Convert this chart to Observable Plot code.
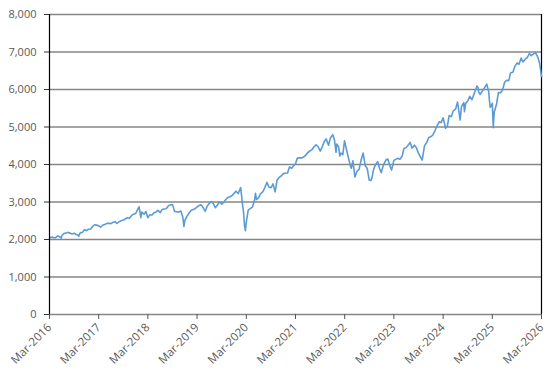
<!DOCTYPE html>
<html>
<head>
<meta charset="utf-8">
<script src="https://cdn.jsdelivr.net/npm/d3@7"></script>
<script src="https://cdn.jsdelivr.net/npm/@observablehq/plot@0.6"></script>
<style>
  html, body { margin: 0; padding: 0; background: #fff; }
  #chart svg { display: block; }
</style>
</head>
<body>
<div id="chart"></div>
<script>
const dates = [
  "2016-03-01","2016-03-15","2016-04-01","2016-04-15","2016-05-01","2016-05-15","2016-05-27","2016-06-01","2016-06-15","2016-07-01","2016-07-15","2016-08-01","2016-08-15","2016-09-01","2016-09-15","2016-10-01","2016-10-04","2016-10-15","2016-11-01","2016-11-15","2016-12-01","2016-12-15",
  "2017-01-01","2017-01-15","2017-02-01","2017-02-15","2017-03-01","2017-03-15","2017-04-01","2017-04-15","2017-05-01","2017-05-15","2017-06-01","2017-06-15","2017-07-01","2017-07-15","2017-08-01","2017-08-15","2017-09-01","2017-09-15","2017-10-01","2017-10-15","2017-11-01","2017-11-15","2017-12-01","2017-12-15","2017-12-26",
  "2018-01-08","2018-01-15","2018-02-01","2018-02-15","2018-03-01","2018-03-15","2018-04-01","2018-04-15","2018-05-01","2018-05-15","2018-06-01","2018-06-15","2018-07-01","2018-07-15","2018-08-01","2018-08-20","2018-09-01","2018-09-15","2018-10-01","2018-10-15","2018-11-01","2018-11-15","2018-11-24","2018-12-01","2018-12-15",
  "2019-01-01","2019-01-15","2019-02-01","2019-02-15","2019-03-01","2019-03-15","2019-04-01","2019-04-15","2019-05-01","2019-05-15","2019-06-01","2019-06-15","2019-07-01","2019-07-15","2019-08-01","2019-08-15","2019-09-01","2019-09-15","2019-10-01","2019-10-15","2019-11-01","2019-11-15","2019-12-01","2019-12-15",
  "2020-01-01","2020-01-19","2020-02-01","2020-02-09","2020-02-16","2020-02-23","2020-03-01","2020-03-15","2020-04-01","2020-04-15","2020-05-01","2020-05-08","2020-05-15","2020-06-01","2020-06-15","2020-07-01","2020-07-15","2020-08-01","2020-08-15","2020-09-01","2020-09-15","2020-10-01","2020-10-15","2020-11-01","2020-11-15","2020-12-01","2020-12-15",
  "2021-01-01","2021-01-15","2021-02-01","2021-02-15","2021-03-01","2021-03-15","2021-04-01","2021-04-15","2021-05-01","2021-05-15","2021-06-01","2021-06-15","2021-07-01","2021-07-15","2021-08-01","2021-08-15","2021-09-01","2021-09-15","2021-10-01","2021-10-15","2021-11-01","2021-11-15","2021-12-03","2021-12-15","2021-12-27",
  "2022-01-01","2022-01-15","2022-01-24","2022-02-01","2022-02-15","2022-02-28","2022-03-15","2022-04-01","2022-04-15","2022-04-20","2022-05-01","2022-05-16","2022-06-01","2022-06-15","2022-07-01","2022-07-16","2022-08-01","2022-08-15","2022-08-30","2022-09-12","2022-09-20","2022-10-01","2022-10-15","2022-11-01","2022-11-15","2022-11-28","2022-12-01","2022-12-15",
  "2023-01-01","2023-01-15","2023-02-01","2023-02-12","2023-03-01","2023-03-15","2023-04-01","2023-04-15","2023-05-01","2023-05-15","2023-06-01","2023-06-30","2023-07-15","2023-08-01","2023-08-15","2023-09-01","2023-09-27","2023-10-15","2023-11-01","2023-11-15","2023-12-01","2023-12-15",
  "2024-01-01","2024-01-15","2024-02-01","2024-02-15","2024-03-01","2024-03-19","2024-04-01","2024-04-15","2024-05-01","2024-05-15","2024-06-01","2024-06-16","2024-07-05","2024-07-15","2024-08-01","2024-08-06","2024-08-15","2024-09-01","2024-09-15","2024-10-01","2024-10-15","2024-11-01","2024-11-06","2024-11-15","2024-11-20","2024-12-01","2024-12-15",
  "2025-01-01","2025-01-19","2025-02-01","2025-02-13","2025-03-01","2025-03-08","2025-03-15","2025-04-01","2025-04-15","2025-05-01","2025-05-15","2025-06-01","2025-06-15","2025-07-01","2025-07-15","2025-08-01","2025-08-15","2025-09-01","2025-09-15","2025-10-01","2025-10-15","2025-11-01","2025-11-15","2025-12-01","2025-12-15",
  "2026-01-01","2026-01-15","2026-02-01","2026-02-15","2026-03-01"
];
const values = [
  2040,2065,2050,2047,2095,2075,2035,2102,2161,2170,2190,2170,2147,2168,2133,2111,2085,2180,2191,2262,2238,2274,
  2279,2349,2395,2385,2362,2328,2388,2402,2430,2432,2423,2459,2476,2430,2476,2500,2519,2553,2579,2564,2642,2675,2695,2800,2872,
  2581,2731,2677,2747,2582,2656,2654,2711,2735,2779,2718,2801,2813,2818,2901,2930,2924,2750,2740,2730,2760,2600,2351,2510,2610,
  2706,2775,2803,2822,2867,2905,2923,2850,2752,2886,2964,3014,2953,2847,2926,3007,2940,2995,3066,3120,3140,3168,3230,3289,
  3225,3386,2954,2746,2386,2237,2470,2783,2830,2863,3055,3232,3066,3115,3226,3271,3372,3526,3401,3380,3483,3270,3585,3662,3694,3756,3768,
  3773,3934,3901,3968,4019,4170,4181,4173,4202,4246,4320,4360,4395,4468,4524,4480,4357,4471,4613,4682,4513,4709,4796,4662,4326,
  4546,4471,4225,4306,4262,4631,4392,4131,3930,3901,4101,3666,3825,3863,4118,4305,3966,3901,3585,3577,3650,3856,3991,4076,3895,3783,3840,3999,
  4119,4147,3951,3855,4109,4137,4167,4136,4221,4425,4450,4589,4437,4515,4450,4288,4117,4502,4594,4719,4742,4783,
  4906,5029,5137,5117,5243,4967,5018,5308,5277,5431,5475,5667,5186,5543,5648,5408,5626,5708,5815,5728,5870,6032,6090,6050,5930,5868,5949,
  6040,6144,5955,5521,5633,4982,5396,5604,5916,5912,5977,6198,6244,6238,6449,6460,6615,6711,6671,6840,6734,6812,6850,6960,6900,
  6950,6980,6870,6700,6350
];
const yTicks = [0,1000,2000,3000,4000,5000,6000,7000,8000];
const xTickYears = [2016,2017,2018,2019,2020,2021,2022,2023,2024,2025,2026];

const data = dates.map((d, i) => ({date: new Date(d + "T00:00:00Z"), value: values[i]}));
const xTicks = xTickYears.map(y => new Date(Date.UTC(y, 2, 1)));
const xDomain = [xTicks[0], xTicks[xTicks.length - 1]];

const chart = Plot.plot({
  width: 558,
  height: 375,
  marginLeft: 49,
  marginRight: 17,
  marginTop: 14,
  marginBottom: 61,
  style: {fontFamily: "'Open Sans', sans-serif", fontSize: "11px", color: "#595959", background: "#fff"},
  x: {type: "utc", domain: xDomain},
  y: {domain: [0, 8000]},
  marks: [
    Plot.ruleY(yTicks, {stroke: "#868686", strokeWidth: 1.6}),
    Plot.ruleX([xDomain[1]], {stroke: "#000", strokeWidth: 1.2}),
    Plot.line(data, {x: "date", y: "value", stroke: "#5b9bd5", strokeWidth: 1.6}),
    Plot.ruleX([xDomain[0]], {stroke: "#000", strokeWidth: 1.2}),
    Plot.axisY({ticks: yTicks, tickFormat: d3.format(","), tickSize: 5, tickPadding: 8, stroke: "#333", label: null, fill: "#595959"}),
    Plot.axisX({ticks: xTicks, tickFormat: d3.utcFormat("%b-%Y"), tickSize: 5, tickPadding: 6, tickRotate: -45, fontSize: 11.5, stroke: "#555", label: null, fill: "#595959"})
  ]
});
document.getElementById("chart").appendChild(chart);
</script>
</body>
</html>
